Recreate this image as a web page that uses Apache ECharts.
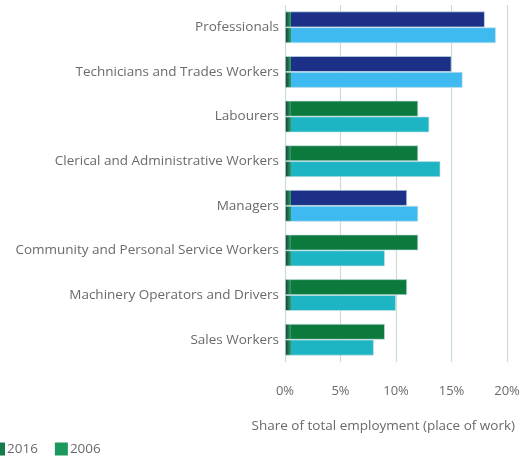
<!DOCTYPE html>
<html>
<head>
<meta charset="utf-8">
<script src="https://cdn.jsdelivr.net/npm/echarts@6/dist/echarts.min.js"></script>
<style>
  html, body { margin: 0; padding: 0; background: #fff; }
  #chart { width: 523px; height: 459px; }
</style>
</head>
<body>
<div id="chart"></div>
<script>
// Occupation groups, top to bottom
const categories = [
  'Professionals',
  'Technicians and Trades Workers',
  'Labourers',
  'Clerical and Administrative Workers',
  'Managers',
  'Community and Personal Service Workers',
  'Machinery Operators and Drivers',
  'Sales Workers'
];
// Share of total employment (%), place of work
const share2016 = [18, 15, 12, 12, 11, 12, 11, 9];
const share2006 = [19, 16, 13, 14, 12, 9, 10, 8];
// Occupations drawn in the blue palette (others use green)
const blueGroups = ['Professionals', 'Technicians and Trades Workers', 'Managers'];
const xTicks = [0, 5, 10, 15, 20];

const palette = {
  blue:  { y2016: '#1b3086', y2006: '#3fbaf1' },
  green: { y2016: '#0d7a3d', y2006: '#1db4c4' }
};

function barStyle(cat, value, key) {
  const pal = blueGroups.includes(cat) ? palette.blue : palette.green;
  const main = pal[key];
  // narrow dark-green strip at the start of each bar
  const edge = Math.min(0.3, 0.5 / value);
  return {
    color: {
      type: 'linear', x: 0, y: 0, x2: 1, y2: 0,
      colorStops: [
        { offset: 0, color: '#12372c' },
        { offset: edge, color: '#2d9a66' },
        { offset: edge, color: main },
        { offset: 1, color: main }
      ]
    },
    borderColor: 'rgba(200,225,230,0.8)',
    borderWidth: 0.8
  };
}

const textColor = '#6a6a6a';
const font = 'Open Sans';

const chart = echarts.init(document.getElementById('chart'), null, { renderer: 'canvas' });
chart.setOption({
  animation: false,
  textStyle: { fontFamily: font },
  grid: { left: 285, right: 16, top: 5, bottom: 97, containLabel: false },
  title: {
    text: 'Share of total employment (place of work)',
    right: 3, top: 414,
    textStyle: { fontFamily: font, fontSize: 13.5, fontWeight: 'normal', color: textColor }
  },
  legend: {
    left: -13, top: 437,
    itemWidth: 13, itemHeight: 13, itemGap: 17,
    icon: 'rect',
    textStyle: { fontFamily: font, fontSize: 13.5, color: textColor, padding: [0, 0, 0, -3] },
    data: ['2016', '2006']
  },
  xAxis: {
    type: 'value',
    min: xTicks[0], max: xTicks[xTicks.length - 1], interval: 5,
    axisLine: { show: false },
    axisTick: { show: false },
    axisLabel: { formatter: '{value}%', margin: 23, color: textColor, fontSize: 13, fontFamily: font },
    splitLine: { show: true, lineStyle: { color: '#cbdcd8', width: 1.2 } }
  },
  yAxis: {
    type: 'category',
    data: categories,
    inverse: true,
    axisLine: { show: false },
    axisTick: { show: false },
    axisLabel: { margin: 6, color: textColor, fontSize: 13.5, fontFamily: font }
  },
  series: [
    {
      name: '2016', type: 'bar',
      barGap: '0%', barCategoryGap: '29%',
      itemStyle: { color: '#167a4c' },
      data: share2016.map((v, i) => ({ value: v, itemStyle: barStyle(categories[i], v, 'y2016') }))
    },
    {
      name: '2006', type: 'bar',
      barGap: '0%', barCategoryGap: '29%',
      itemStyle: { color: '#1c9a5e' },
      data: share2006.map((v, i) => ({ value: v, itemStyle: barStyle(categories[i], v, 'y2006') }))
    }
  ]
});
</script>
</body>
</html>
